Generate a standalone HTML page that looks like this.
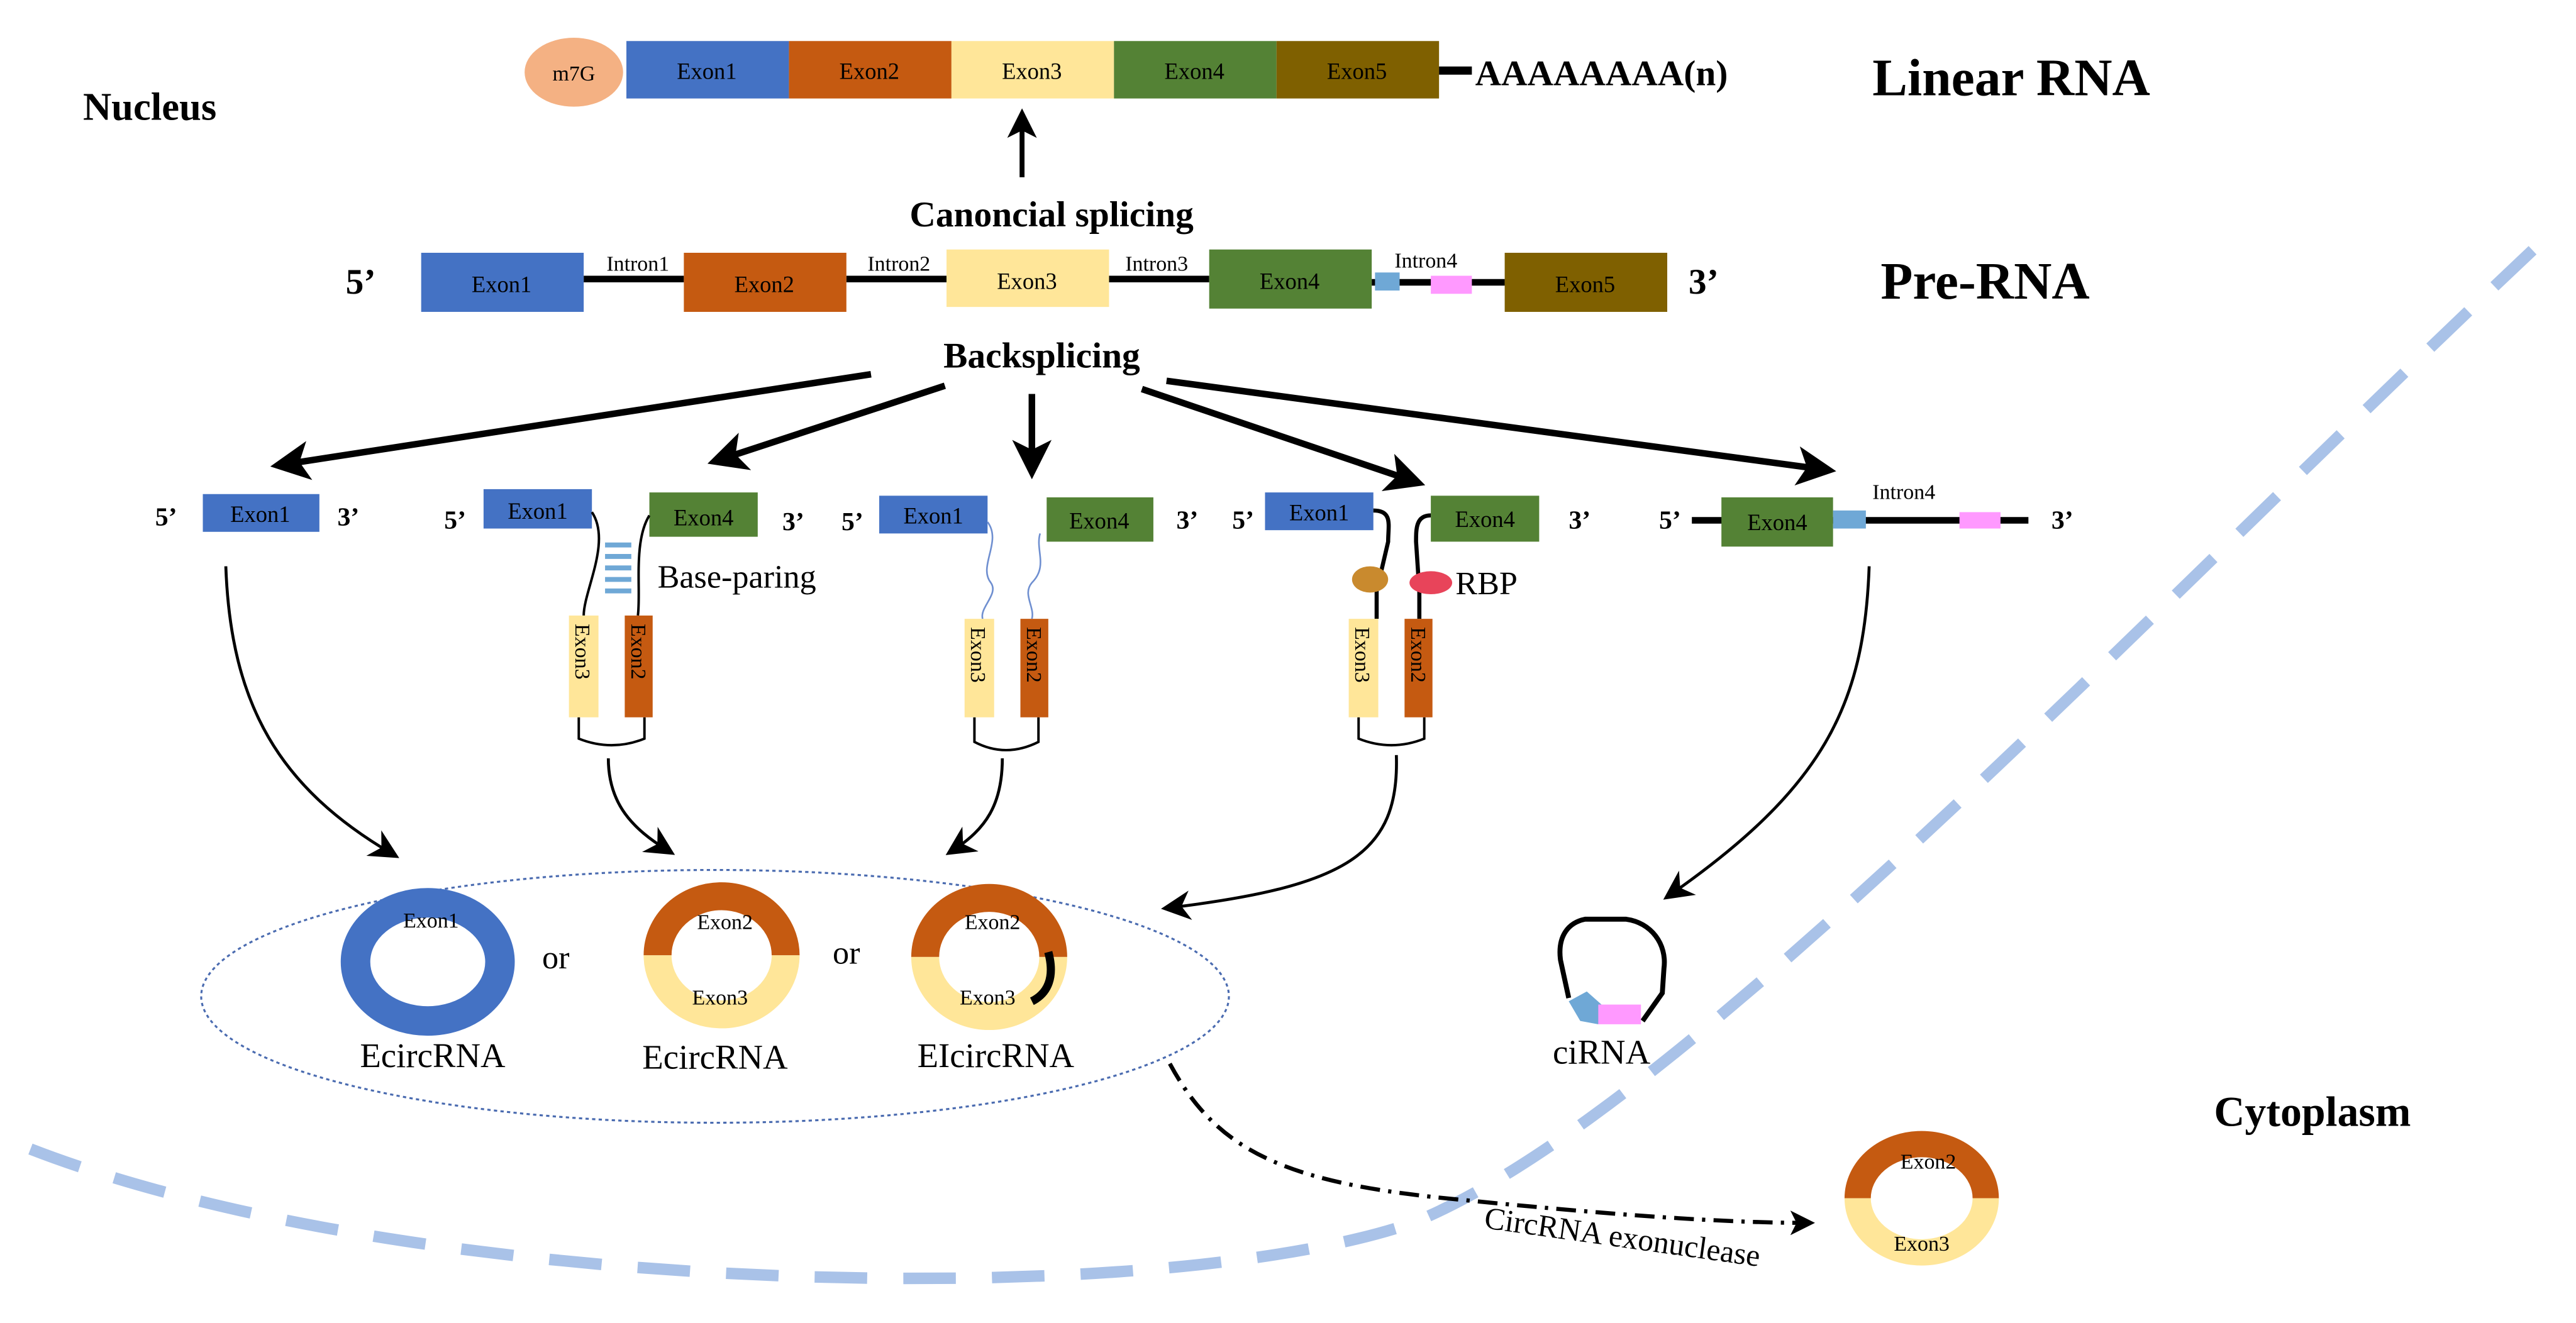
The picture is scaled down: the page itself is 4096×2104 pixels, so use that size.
<!DOCTYPE html>
<html><head><meta charset="utf-8"><style>html,body{margin:0;padding:0;background:#fff}svg{display:block}svg text{font-family:"Liberation Serif",serif}</style></head>
<body>
<svg width="4096" height="2104" viewBox="0 0 1568 806" xmlns="http://www.w3.org/2000/svg">
<defs>
<marker id="ah" markerWidth="6" markerHeight="6" refX="4" refY="3" orient="auto" markerUnits="strokeWidth"><path d="M0,0 L6,3 L0,6 L1.5,3z" fill="#000"/></marker>
<marker id="ah2" markerWidth="10" markerHeight="10" refX="7" refY="5" orient="auto" markerUnits="strokeWidth"><path d="M0,0 L10,5 L0,10 L3,5z" fill="#000"/></marker>
</defs>
<path d="M18,700 C250,790 700,800 860,745 C1020,680 1300,380 1550,145" fill="none" stroke="#a9c2e8" stroke-width="7" stroke-dasharray="32,22"/>
<ellipse cx="349" cy="44" rx="30" ry="21" fill="#f4b183"/>
<text x="349" y="49" font-size="13" text-anchor="middle">m7G</text>
<rect x="381" y="25" width="99" height="35" fill="#4472c4"/>
<rect x="480" y="25" width="99" height="35" fill="#c55a11"/>
<rect x="579" y="25" width="99" height="35" fill="#ffe699"/>
<rect x="678" y="25" width="99" height="35" fill="#548235"/>
<rect x="777" y="25" width="99" height="35" fill="#7f6000"/>
<g font-size="14" text-anchor="middle"><text x="430" y="48">Exon1</text><text x="529" y="48">Exon2</text><text x="628" y="48">Exon3</text><text x="727" y="48">Exon4</text><text x="826" y="48">Exon5</text></g>
<line x1="876" y1="43" x2="896" y2="43" stroke="#000" stroke-width="5"/>
<text x="898" y="52" font-size="22" font-weight="bold">AAAAAAAA(n)</text>
<text x="1140" y="58" font-size="32" font-weight="bold">Linear RNA</text>
<text x="50" y="73" font-size="24" font-weight="bold">Nucleus</text>
<line x1="622" y1="108" x2="622" y2="72" stroke="#000" stroke-width="3" marker-end="url(#ah)"/>
<text x="640" y="138" font-size="22" font-weight="bold" text-anchor="middle">Canoncial splicing</text>
<g stroke="#000" stroke-width="4"><line x1="355" y1="170" x2="416" y2="170"/><line x1="515" y1="170" x2="576" y2="170"/><line x1="675" y1="170" x2="736" y2="170"/><line x1="835" y1="172" x2="916" y2="172"/></g>
<rect x="256" y="154" width="99" height="36" fill="#4472c4"/>
<rect x="416" y="154" width="99" height="36" fill="#c55a11"/>
<rect x="576" y="152" width="99" height="35" fill="#ffe699"/>
<rect x="736" y="152" width="99" height="36" fill="#548235"/>
<rect x="916" y="154" width="99" height="36" fill="#7f6000"/>
<rect x="837" y="166" width="15" height="11" fill="#6fa8d6"/>
<rect x="871" y="168" width="25" height="11" fill="#ff99ff"/>
<g font-size="14" text-anchor="middle"><text x="305" y="178">Exon1</text><text x="465" y="178">Exon2</text><text x="625" y="176">Exon3</text><text x="785" y="176">Exon4</text><text x="965" y="178">Exon5</text></g>
<g font-size="13" text-anchor="middle"><text x="388" y="165">Intron1</text><text x="547" y="165">Intron2</text><text x="704" y="165">Intron3</text><text x="868" y="163">Intron4</text></g>
<text x="210" y="179" font-size="22" font-weight="bold">5’</text>
<text x="1028" y="179" font-size="22" font-weight="bold">3’</text>
<text x="1145" y="182" font-size="32" font-weight="bold">Pre-RNA</text>
<text x="634" y="224" font-size="22" font-weight="bold" text-anchor="middle">Backsplicing</text>
<g stroke="#000" stroke-width="4" marker-end="url(#ah)">
<line x1="530" y1="228" x2="172" y2="283"/>
<line x1="575" y1="235" x2="438" y2="280"/>
<line x1="628" y1="240" x2="628" y2="284"/>
<line x1="695" y1="237" x2="860" y2="293"/>
<line x1="710" y1="232" x2="1110" y2="286"/>
</g>
<g font-size="16" font-weight="bold"><text x="94" y="320">5’</text><text x="205" y="320">3’</text><text x="270" y="322">5’</text><text x="476" y="323">3’</text><text x="512" y="323">5’</text><text x="716" y="322">3’</text><text x="750" y="322">5’</text><text x="955" y="322">3’</text><text x="1010" y="322">5’</text><text x="1249" y="322">3’</text></g>
<rect x="123" y="301" width="71" height="23" fill="#4472c4"/>
<rect x="294" y="298" width="66" height="24" fill="#4472c4"/>
<rect x="395" y="300" width="66" height="27" fill="#548235"/>
<rect x="535" y="302" width="66" height="23" fill="#4472c4"/>
<rect x="637" y="303" width="65" height="27" fill="#548235"/>
<rect x="770" y="300" width="66" height="23" fill="#4472c4"/>
<rect x="871" y="302" width="66" height="28" fill="#548235"/>
<line x1="1030" y1="317" x2="1235" y2="317" stroke="#000" stroke-width="4"/>
<rect x="1048" y="303" width="68" height="30" fill="#548235"/>
<rect x="1116" y="311" width="20" height="11" fill="#6fa8d6"/>
<rect x="1193" y="312" width="25" height="10" fill="#ff99ff"/>
<text x="1140" y="304" font-size="13">Intron4</text>
<g font-size="14" text-anchor="middle"><text x="158" y="318">Exon1</text><text x="327" y="316">Exon1</text><text x="428" y="320">Exon4</text><text x="568" y="319">Exon1</text><text x="669" y="322">Exon4</text><text x="803" y="317">Exon1</text><text x="904" y="321">Exon4</text><text x="1082" y="323">Exon4</text></g>
<g fill="none" stroke="#000" stroke-width="1.5">
<path d="M360,312 C372,330 355,360 355,375"/><path d="M395,314 C385,330 390,360 388,375"/>
<path d="M352,437 L352,450 Q372,458 392,450 L392,437"/>
<path d="M593,437 L593,452 Q612,462 632,452 L632,437"/>
<path d="M827,437 L827,450 Q847,458 867,450 L867,437"/>
</g>
<g fill="none" stroke="#000" stroke-width="2.5">
<path d="M836,311 C848,311 845,320 845,330 L838,360 L838,377"/><path d="M871,314 C862,314 862,322 862,330 L864,360 L864,377"/>
</g>
<g fill="none" stroke="#6f8fd0" stroke-width="1"><path d="M601,318 C610,330 595,345 603,355 C608,362 596,370 598,377"/><path d="M633,325 C630,335 638,345 628,355 C622,362 630,370 628,377"/></g>
<g stroke="#6fa8d6" stroke-width="3"><line x1="368" y1="332" x2="384" y2="332"/><line x1="368" y1="339" x2="384" y2="339"/><line x1="368" y1="346" x2="384" y2="346"/><line x1="368" y1="353" x2="384" y2="353"/><line x1="368" y1="360" x2="384" y2="360"/></g>
<text x="400" y="358" font-size="20">Base-paring</text>
<ellipse cx="834" cy="353" rx="11" ry="8" fill="#c98a2e"/>
<ellipse cx="871" cy="355" rx="13" ry="7" fill="#e8445a"/>
<text x="886" y="362" font-size="20">RBP</text>
<g>
<rect x="346" y="375" width="18" height="62" fill="#ffe699"/><rect x="380" y="375" width="17" height="62" fill="#c55a11"/>
<rect x="587" y="377" width="18" height="60" fill="#ffe699"/><rect x="621" y="377" width="17" height="60" fill="#c55a11"/>
<rect x="821" y="377" width="18" height="60" fill="#ffe699"/><rect x="855" y="377" width="17" height="60" fill="#c55a11"/>
</g>
<g font-size="13">
<text transform="translate(350,380) rotate(90)">Exon3</text><text transform="translate(384,380) rotate(90)">Exon2</text>
<text transform="translate(591,382) rotate(90)">Exon3</text><text transform="translate(625,382) rotate(90)">Exon2</text>
<text transform="translate(825,382) rotate(90)">Exon3</text><text transform="translate(859,382) rotate(90)">Exon2</text>
</g>
<g fill="none" stroke="#000" stroke-width="1.8" marker-end="url(#ah2)">
<path d="M137,345 C140,430 170,480 238,520"/>
<path d="M370,462 C370,490 385,505 406,518"/>
<path d="M610,462 C610,490 600,505 580,518"/>
<path d="M850,460 C852,520 820,540 712,553"/>
<path d="M1138,345 C1135,430 1110,480 1017,545"/>
</g>
<ellipse cx="435" cy="607" rx="313" ry="77" fill="none" stroke="#4a6bb0" stroke-width="1.2" stroke-dasharray="2,2"/>
<ellipse cx="260" cy="586" rx="44" ry="36" fill="none" stroke="#4472c4" stroke-width="18"/>
<text x="262" y="565" font-size="13" text-anchor="middle">Exon1</text>
<text x="338" y="590" font-size="20" text-anchor="middle">or</text>
<text x="515" y="587" font-size="20" text-anchor="middle">or</text>
<g fill="none" stroke-width="17">
<path d="M400,582 A39,36 0 0 1 478,582" stroke="#c55a11"/><path d="M478,582 A39,36 0 0 1 400,582" stroke="#ffe699"/>
<path d="M563,583 A39,36 0 0 1 641,583" stroke="#c55a11"/><path d="M641,583 A39,36 0 0 1 563,583" stroke="#ffe699"/>
</g>
<path d="M638,580 C642,595 638,605 628,610" fill="none" stroke="#000" stroke-width="5"/>
<g font-size="13" text-anchor="middle"><text x="441" y="566">Exon2</text><text x="438" y="612">Exon3</text><text x="604" y="566">Exon2</text><text x="601" y="612">Exon3</text></g>
<g font-size="21" text-anchor="middle"><text x="263" y="650">EcircRNA</text><text x="435" y="651">EcircRNA</text><text x="606" y="650">EIcircRNA</text><text x="975" y="648">ciRNA</text></g>
<path d="M955,608 L950,585 C948,570 955,562 965,560 L990,560 C1005,562 1015,575 1013,590 L1012,605 L1000,622" fill="none" stroke="#000" stroke-width="3"/>
<polygon points="955,610 966,604 975,612 973,624 962,622" fill="#6fa8d6"/>
<rect x="973" y="612" width="26" height="12" fill="#ff99ff"/>
<text x="1408" y="686" font-size="26" font-weight="bold" text-anchor="middle">Cytoplasm</text>
<path d="M712,648 C740,700 780,720 880,730 C960,738 1040,745 1100,745" fill="none" stroke="#000" stroke-width="2.5" stroke-dasharray="12,5,2,5" marker-end="url(#ah)"/>
<text transform="translate(903,748) rotate(8)" font-size="19">CircRNA exonuclease</text>
<g fill="none" stroke-width="16">
<path d="M1131,730 A39,33 0 0 1 1209,730" stroke="#c55a11"/><path d="M1209,730 A39,33 0 0 1 1131,730" stroke="#ffe699"/>
</g>
<g font-size="13" text-anchor="middle"><text x="1174" y="712">Exon2</text><text x="1170" y="762">Exon3</text></g>
</svg>
</body></html>
